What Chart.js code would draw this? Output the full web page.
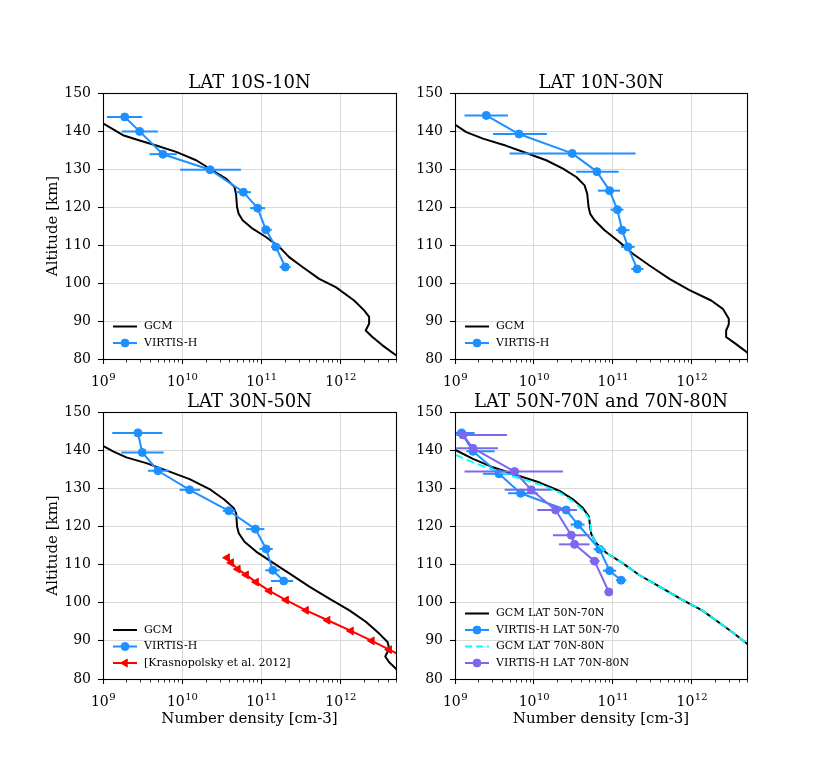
<!DOCTYPE html>
<html><head><meta charset="utf-8">
<script src="https://cdn.jsdelivr.net/npm/chart.js@4.4.1/dist/chart.umd.min.js"></script>
<style>
html,body{margin:0;padding:0;background:#fff;}
body{width:831px;height:776px;position:relative;overflow:hidden;}
canvas{position:absolute;}
</style></head><body>
<canvas id="c1"></canvas><canvas id="c2"></canvas><canvas id="c3"></canvas><canvas id="c4"></canvas>
<script>
// ---------- tick labels ----------
const xTicks = [1e9, 1e10, 1e11, 1e12];
const xTickBase = '10';
const xTickExp = ['9', '10', '11', '12'];
const yTicks = [80, 90, 100, 110, 120, 130, 140, 150];
const titles = ['LAT 10S-10N', 'LAT 10N-30N', 'LAT 30N-50N', 'LAT 50N-70N and 70N-80N'];
const yLabel = 'Altitude [km]';
const xLabel = 'Number density [cm-3]';

// ---------- panel 1 : LAT 10S-10N ----------
const p1GcmAlt = [143.5,142.0,138.9,137.5,136.2,134.5,132.3,129.6,127.5,125.3,123.5,120.0,118.2,116.5,114.3,112.1,109.5,106.8,104.2,101.1,98.9,95.4,92.8,91.1,89.3,87.5,85.8,83.6,81.2,80.0];
const p1GcmDen = [7.4e8,1.0e9,1.79e9,2.90e9,4.70e9,8.39e9,1.50e10,2.43e10,3.57e10,4.55e10,4.78e10,4.92e10,5.16e10,5.79e10,7.74e10,1.14e11,1.68e11,2.24e11,3.30e11,5.36e11,8.69e11,1.48e12,1.98e12,2.29e12,2.29e12,2.07e12,2.52e12,3.37e12,4.85e12,6.0e12];
const p1VirAlt = [143.7,139.9,133.9,129.8,123.9,119.7,114.0,109.5,104.2];
const p1VirDen = [1.88e9,2.90e9,5.70e9,2.25e10,5.92e10,8.95e10,1.14e11,1.52e11,2.00e11];
const p1VirLo  = [1.12e9,1.73e9,3.87e9,9.42e9,4.78e10,7.18e10,1.00e11,1.32e11,1.70e11];
const p1VirHi  = [3.13e9,4.93e9,8.55e9,5.52e10,7.38e10,1.11e11,1.35e11,1.78e11,2.34e11];

// ---------- panel 2 : LAT 10N-30N ----------
const p2GcmAlt = [143.0,141.7,139.7,138.0,136.1,134.2,132.3,130.1,127.9,125.7,123.5,120.0,118.2,116.5,113.9,110.8,107.7,104.6,101.1,98.1,95.4,93.2,90.6,89.1,87.5,85.8,83.9,81.8,80.0];
const p2GcmDen = [7.8e8,1.0e9,1.39e9,2.26e9,4.47e9,8.0e9,1.43e10,2.33e10,3.44e10,4.38e10,4.73e10,4.92e10,5.16e10,5.86e10,7.85e10,1.21e11,1.79e11,2.91e11,5.21e11,9.33e11,1.76e12,2.47e12,2.94e12,2.94e12,2.72e12,2.72e12,3.64e12,4.97e12,6.3e12];
const p2VirAlt = [144.1,139.2,134.1,129.3,124.3,119.3,113.9,109.5,103.7];
const p2VirDen = [2.49e9,6.46e9,3.05e10,6.27e10,9.08e10,1.14e11,1.31e11,1.55e11,2.03e11];
const p2VirLo  = [1.32e9,3.03e9,4.92e9,3.44e10,6.46e10,9.33e10,1.10e11,1.27e11,1.71e11];
const p2VirHi  = [4.69e9,1.46e10,1.94e11,1.18e11,1.23e11,1.36e11,1.62e11,1.88e11,2.44e11];

// ---------- panel 3 : LAT 30N-50N ----------
const p3GcmAlt = [142.5,141.1,139.7,138.1,136.6,134.7,132.4,129.8,127.0,124.8,123.4,119.9,118.2,116.0,113.4,110.5,107.7,104.2,101.1,98.0,95.0,91.9,89.7,88.0,85.9,84.4,82.9,81.0,79.5];
const p3GcmDen = [7.6e8,1.0e9,1.34e9,1.97e9,3.52e9,6.28e9,1.24e10,2.21e10,3.42e10,4.48e10,4.80e10,4.93e10,5.18e10,6.11e10,8.57e10,1.39e11,2.25e11,4.03e11,7.19e11,1.29e12,2.08e12,3.07e12,3.91e12,4.10e12,3.66e12,4.10e12,4.89e12,6.0e12,7.0e12];
const p3VirAlt = [144.5,139.4,134.6,129.6,124.1,119.3,114.1,108.5,105.7];
const p3VirDen = [2.76e9,3.13e9,4.93e9,1.24e10,3.87e10,8.39e10,1.15e11,1.39e11,1.91e11];
const p3VirLo  = [1.31e9,1.70e9,3.69e9,9.25e9,3.26e10,6.41e10,9.44e10,1.12e11,1.32e11];
const p3VirHi  = [5.60e9,5.82e9,6.79e9,1.69e10,4.70e10,1.09e11,1.39e11,1.70e11,2.51e11];
const p3KraAlt = [111.8,110.5,108.8,107.3,105.4,103.1,100.7,98.0,95.4,92.6,90.0,87.7,85.5];
const p3KraDen = [3.69e10,4.15e10,5.04e10,6.41e10,8.57e10,1.26e11,2.05e11,3.66e11,6.85e11,1.35e12,2.48e12,4.10e12,6.6e12];

// ---------- panel 4 : LAT 50N-70N and 70N-80N ----------
const p4GcmAAlt = [141.5,140.1,137.7,135.5,133.5,131.5,129.3,127.1,124.8,122.6,119.9,118.0,115.6,113.1,110.3,107.2,104.2,100.7,98.0,95.0,92.2,89.3,87.5];
const p4GcmADen = [7.5e8,1.0e9,1.69e9,3.03e9,5.97e9,1.18e10,2.11e10,3.12e10,4.17e10,4.97e10,5.16e10,5.32e10,6.15e10,8.24e10,1.34e11,2.18e11,3.90e11,7.69e11,1.35e12,2.14e12,3.30e12,4.97e12,6.3e12];
const p4VirAAlt = [144.5,139.7,133.8,128.7,124.3,120.5,114.0,108.4,105.9];
const p4VirADen = [1.21e9,1.69e9,3.61e9,6.78e9,2.56e10,3.61e10,6.78e10,9.08e10,1.27e11];
const p4VirALo  = [9.5e8,1.39e9,2.26e9,4.69e9,1.83e10,2.91e10,5.69e10,7.46e10,1.10e11];
const p4VirAHi  = [1.77e9,3.18e9,5.16e9,1.12e10,3.50e10,4.38e10,8.07e10,1.10e11,1.48e11];
const p4GcmBAlt = [140.3,138.8,136.8,134.8,132.9,131.0,128.9,126.6,124.3,122.2,119.9,118.0,115.6,113.1,110.3,107.2,104.2,100.7,98.0,95.0,92.2,89.3,87.5];
const p4GcmBDen = [7.5e8,1.0e9,1.69e9,3.03e9,5.97e9,1.18e10,2.11e10,3.12e10,4.17e10,4.97e10,5.25e10,5.37e10,6.15e10,8.24e10,1.34e11,2.18e11,3.90e11,7.69e11,1.35e12,2.14e12,3.30e12,4.97e12,6.3e12];
const p4VirBAlt = [144.0,140.5,134.4,129.6,124.3,117.7,115.3,110.9,102.8];
const p4VirBDen = [1.26e9,1.69e9,5.69e9,9.25e9,1.88e10,2.97e10,3.27e10,5.86e10,8.89e10];
const p4VirBLo  = [1.04e9,1.04e9,1.32e9,4.26e9,1.10e10,1.74e10,2.07e10,5.07e10,7.83e10];
const p4VirBHi  = [4.55e9,3.50e9,2.33e10,1.66e10,3.44e10,5.07e10,5.07e10,6.78e10,9.82e10];

// ---------- helpers ----------
const FONT = '"DejaVu Serif", "Liberation Serif", serif';
Chart.defaults.font.family = FONT;
Chart.defaults.color = '#000';

function pts(den, alt) { return den.map((d, i) => ({ x: d, y: alt[i] })); }

function gcm(label, den, alt, color, dash) {
  return { label, data: pts(den, alt), showLine: true, borderColor: color, backgroundColor: color,
    borderWidth: 2, borderDash: dash || [], pointRadius: 0, pointHoverRadius: 0 };
}
function obs(label, den, alt, lo, hi, color) {
  return { label, data: pts(den, alt), showLine: true, borderColor: color, backgroundColor: color,
    borderWidth: 2, pointRadius: 4, pointBorderWidth: 1, pointBorderColor: color, pointBackgroundColor: color,
    pointStyle: 'circle', errLo: lo, errHi: hi };
}

function makeChart(id, box, area, datasets, meta) {
  const cv = document.getElementById(id);
  cv.width = box.w; cv.height = box.h;
  cv.style.left = box.x + 'px'; cv.style.top = box.y + 'px';
  datasets.forEach((d, i) => { d.order = 20 - i; });
  const deco = {
    id: 'deco',
    afterDatasetDraw(chart, args) {
      const ds = chart.data.datasets[args.index];
      if (!ds.errLo) return;
      const { ctx, chartArea: a, scales: { x, y } } = chart;
      ctx.save();
      ctx.beginPath(); ctx.rect(a.left, a.top, a.right - a.left, a.bottom - a.top); ctx.clip();
      ctx.strokeStyle = ds.borderColor; ctx.lineWidth = 2;
      ds.data.forEach((p, i) => {
        const py = y.getPixelForValue(p.y);
        ctx.beginPath();
        ctx.moveTo(x.getPixelForValue(ds.errLo[i]), py);
        ctx.lineTo(x.getPixelForValue(ds.errHi[i]), py);
        ctx.stroke();
      });
      ctx.restore();
    },
    afterDraw(chart) {
      const { ctx, chartArea: a, scales: { x } } = chart;
      ctx.save();
      // frame
      ctx.strokeStyle = '#000'; ctx.lineWidth = 1.1;
      const L = Math.floor(a.left) + 0.5, R = Math.floor(a.right) + 0.5, T = Math.floor(a.top) + 0.5, B = Math.floor(a.bottom) + 0.5;
      ctx.strokeRect(L, T, R - L, B - T);
      // minor ticks
      ctx.lineWidth = 0.8;
      for (let d = 9; d <= 12; d++) {
        for (let m = 2; m <= 9; m++) {
          const v = m * Math.pow(10, d);
          if (v > x.max) break;
          const px = Math.floor(x.getPixelForValue(v)) + 0.5;
          ctx.beginPath(); ctx.moveTo(px, B); ctx.lineTo(px, B + 3); ctx.stroke();
        }
      }
      // x tick labels with superscript exponent
      ctx.fillStyle = '#000'; ctx.textBaseline = 'alphabetic'; ctx.textAlign = 'left';
      xTicks.forEach((v, i) => {
        const px = x.getPixelForValue(v);
        ctx.font = '14px ' + FONT;
        const w1 = ctx.measureText(xTickBase).width;
        ctx.font = '10px ' + FONT;
        const w2 = ctx.measureText(xTickExp[i]).width;
        const sx = px - (w1 + w2) / 2;
        ctx.font = '14px ' + FONT;
        ctx.fillText(xTickBase, sx, a.bottom + 27);
        ctx.font = '10px ' + FONT;
        ctx.fillText(xTickExp[i], sx + w1 + 0.5, a.bottom + 20.5);
      });
      // legend
      const items = chart.data.datasets;
      const step = 16.5;
      const y0 = a.bottom - 16 - (items.length - 1) * step;
      ctx.font = '11px ' + FONT; ctx.textBaseline = 'middle'; ctx.textAlign = 'left';
      items.forEach((ds, i) => {
        const yy = y0 + i * step;
        ctx.strokeStyle = ds.borderColor; ctx.lineWidth = ds.borderWidth;
        ctx.setLineDash(ds.borderDash && ds.borderDash.length ? [7, 4] : []);
        ctx.beginPath(); ctx.moveTo(a.left + 10, yy); ctx.lineTo(a.left + 34, yy); ctx.stroke();
        ctx.setLineDash([]);
        if (ds.pointRadius > 0) {
          ctx.fillStyle = ds.backgroundColor; ctx.strokeStyle = ds.borderColor; ctx.lineWidth = 1;
          Chart.helpers.drawPoint(ctx, { pointStyle: ds.pointStyle || 'circle', radius: ds.pointRadius,
            rotation: ds.pointRotation || 0, borderWidth: 1 }, a.left + 22, yy);
        }
        ctx.fillStyle = '#000';
        ctx.fillText(ds.label, a.left + 41, yy);
      });
      // title
      ctx.fillStyle = '#000';
      ctx.font = '18px ' + FONT; ctx.textAlign = 'center'; ctx.textBaseline = 'alphabetic';
      ctx.fillText(meta.title, (a.left + a.right) / 2, a.top - 5);
      // axis labels
      ctx.font = '15px ' + FONT; ctx.textBaseline = 'middle';
      if (meta.ylab) {
        ctx.save();
        ctx.translate(53 - box.x, (a.top + a.bottom) / 2);
        ctx.rotate(-Math.PI / 2);
        ctx.fillText(yLabel, 0, 0);
        ctx.restore();
      }
      if (meta.xlab) {
        ctx.fillText(xLabel, (a.left + a.right) / 2, 719 - box.y);
      }
      ctx.restore();
    }
  };
  return new Chart(cv, {
    type: 'scatter',
    data: { datasets },
    plugins: [deco],
    options: {
      responsive: false, animation: false, devicePixelRatio: 1,
      layout: { padding: { left: 0, top: area.t - box.y, right: box.x + box.w - area.r, bottom: 0 } },
      plugins: { legend: { display: false }, tooltip: { enabled: false }, title: { display: false } },
      elements: { line: { tension: 0, borderJoinStyle: 'round' } },
      scales: {
        x: {
          type: 'logarithmic', min: 1e9, max: 5e12, position: 'bottom',
          afterBuildTicks: s => { s.ticks = xTicks.map(v => ({ value: v })); },
          afterFit: s => { s.height = box.y + box.h - area.b; },
          ticks: { callback: () => '', font: { size: 14, family: FONT }, color: '#000', padding: 5, maxRotation: 0, autoSkip: false },
          grid: { color: '#d9d9d9', lineWidth: 1, tickLength: 5, tickColor: '#000', tickWidth: 1.1 },
          border: { display: false }
        },
        y: {
          type: 'linear', min: 80, max: 150, position: 'left',
          afterBuildTicks: s => { s.ticks = yTicks.map(v => ({ value: v })); },
          afterFit: s => { s.width = area.l - box.x; },
          ticks: { font: { size: 14, family: FONT }, color: '#000', padding: 7, autoSkip: false },
          grid: { color: '#d9d9d9', lineWidth: 1, tickLength: 5, tickColor: '#000', tickWidth: 1.1 },
          border: { display: false }
        }
      }
    }
  });
}

const BLUE = '#1e90ff', PURPLE = '#7b68ee', CYAN = '#00ffff', RED = '#ff0000', BLACK = '#000000';

makeChart('c1', { x: 0, y: 50, w: 420, h: 345 }, { l: 103, t: 93, r: 396, b: 359 }, [
  gcm('GCM', p1GcmDen, p1GcmAlt, BLACK),
  obs('VIRTIS-H', p1VirDen, p1VirAlt, p1VirLo, p1VirHi, BLUE)
], { title: titles[0], ylab: true, xlab: false });

makeChart('c2', { x: 352, y: 50, w: 420, h: 345 }, { l: 455, t: 93, r: 747, b: 359 }, [
  gcm('GCM', p2GcmDen, p2GcmAlt, BLACK),
  obs('VIRTIS-H', p2VirDen, p2VirAlt, p2VirLo, p2VirHi, BLUE)
], { title: titles[1], ylab: false, xlab: false });

const kra = { label: '[Krasnopolsky et al. 2012]', data: pts(p3KraDen, p3KraAlt), showLine: true,
  borderColor: RED, backgroundColor: RED, borderWidth: 2, pointRadius: 4.5, pointStyle: 'triangle',
  pointRotation: -90, pointBorderWidth: 1, pointBorderColor: RED, pointBackgroundColor: RED };

makeChart('c3', { x: 0, y: 369, w: 420, h: 380 }, { l: 103, t: 412, r: 396, b: 679 }, [
  gcm('GCM', p3GcmDen, p3GcmAlt, BLACK),
  obs('VIRTIS-H', p3VirDen, p3VirAlt, p3VirLo, p3VirHi, BLUE),
  kra
], { title: titles[2], ylab: true, xlab: true });

makeChart('c4', { x: 352, y: 369, w: 420, h: 380 }, { l: 455, t: 412, r: 747, b: 679 }, [
  gcm('GCM LAT 50N-70N', p4GcmADen, p4GcmAAlt, BLACK),
  obs('VIRTIS-H LAT 50N-70', p4VirADen, p4VirAAlt, p4VirALo, p4VirAHi, BLUE),
  gcm('GCM LAT 70N-80N', p4GcmBDen, p4GcmBAlt, CYAN, [8, 4]),
  obs('VIRTIS-H LAT 70N-80N', p4VirBDen, p4VirBAlt, p4VirBLo, p4VirBHi, PURPLE)
], { title: titles[3], ylab: false, xlab: true });
</script>
</body></html>
